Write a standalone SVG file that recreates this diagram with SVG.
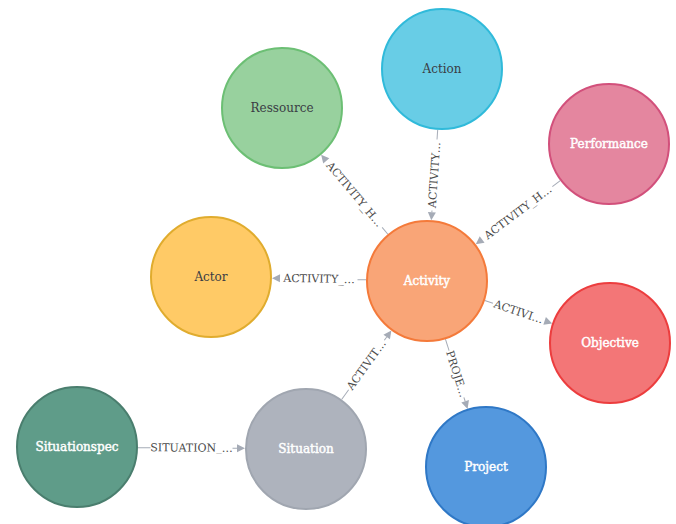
<svg xmlns="http://www.w3.org/2000/svg" width="676" height="524" viewBox="0 0 676 524">
<style>
.node circle{stroke-width:2}
.nl{font-family:"DejaVu Serif","Liberation Serif",serif;font-size:12px;text-anchor:middle;dominant-baseline:central}
.dark{fill:#3a3c44}
.light{fill:#ffffff;stroke:#ffffff;stroke-width:0.45}
.rel line{stroke:#a5abb6;stroke-width:1}
.rel polygon{fill:#a5abb6}
.el{font-family:"DejaVu Serif","Liberation Serif",serif;font-size:11px;fill:#4a4a4a;text-anchor:middle;dominant-baseline:central}
</style>
<rect width="676" height="524" fill="#ffffff"/>
<g id="connectors">
  <!-- Activity -> Ressource -->
  <g class="rel" transform="translate(354.5,194.5) rotate(50.0)">
    <polygon points="-51.9,0 -43.9,-4 -43.9,4"/>
    <line x1="43" y1="0" x2="51.9" y2="0"/>
    <text class="el" x="0" y="0">ACTIVITY_H…</text>
  </g>
  <!-- Action -> Activity -->
  <g class="rel" transform="translate(434.5,175) rotate(-85.95)">
    <polygon points="-45.3,0 -37.3,-4 -37.3,4"/>
    <line x1="-37.3" y1="0" x2="-35.5" y2="0"/>
    <line x1="35.5" y1="0" x2="45.3" y2="0"/>
    <text class="el" x="0" y="0">ACTIVITY…</text>
  </g>
  <!-- Performance -> Activity -->
  <g class="rel" transform="translate(518,212.5) rotate(-36.97)">
    <polygon points="-52.9,0 -44.9,-4 -44.9,4"/>
    <line x1="43" y1="0" x2="52.9" y2="0"/>
    <text class="el" x="0" y="0">ACTIVITY_H…</text>
  </g>
  <!-- Activity -> Actor -->
  <g class="rel" transform="translate(319,279) rotate(1.06)">
    <polygon points="-47,0 -39,-4 -39,4"/>
    <line x1="38.5" y1="0" x2="47" y2="0"/>
    <text class="el" x="0" y="0">ACTIVITY_…</text>
  </g>
  <!-- Activity -> Objective -->
  <g class="rel" transform="translate(518.5,312) rotate(18.72)">
    <polygon points="35.6,0 27.6,-4 27.6,4"/>
    <line x1="-35.6" y1="0" x2="-27" y2="0"/>
    <text class="el" x="0" y="0">ACTIVI…</text>
  </g>
  <!-- Activity -> Project -->
  <g class="rel" transform="translate(456.5,374) rotate(72.4)">
    <polygon points="36.6,0 28.6,-4 28.6,4"/>
    <line x1="-36.6" y1="0" x2="-24.5" y2="0"/>
    <line x1="24.5" y1="0" x2="28.6" y2="0"/>
    <text class="el" x="0" y="0">PROJE…</text>
  </g>
  <!-- Situation -> Activity -->
  <g class="rel" transform="translate(366.5,365) rotate(-54.2)">
    <polygon points="42.5,0 34.5,-4 34.5,4"/>
    <line x1="-42.5" y1="0" x2="-30.5" y2="0"/>
    <line x1="30.5" y1="0" x2="34.5" y2="0"/>
    <text class="el" x="0" y="0">ACTIVIT…</text>
  </g>
  <!-- Situationspec -> Situation -->
  <g class="rel" transform="translate(191.5,448) rotate(0.25)">
    <polygon points="53.5,0 45.5,-4 45.5,4"/>
    <line x1="-53.5" y1="0" x2="-41" y2="0"/>
    <line x1="41" y1="0" x2="45.5" y2="0"/>
    <text class="el" x="0" y="0">SITUATION_…</text>
  </g>
</g>
<g id="node-ressource" class="node">
  <circle cx="282" cy="108" r="60" fill="#98d19e" stroke="#6cbf74"/>
  <text class="nl dark" x="282" y="108">Ressource</text>
</g>
<g id="node-action" class="node">
  <circle cx="442" cy="69" r="60" fill="#68cde6" stroke="#30bada"/>
  <text class="nl dark" x="442" y="69">Action</text>
</g>
<g id="node-performance" class="node">
  <circle cx="609" cy="144" r="60" fill="#e4869f" stroke="#d2507b"/>
  <text class="nl light" x="609" y="144">Performance</text>
</g>
<g id="node-actor" class="node">
  <circle cx="211" cy="277" r="60" fill="#ffca66" stroke="#e0ac2e"/>
  <text class="nl dark" x="211" y="277">Actor</text>
</g>
<g id="node-activity" class="node">
  <circle cx="427" cy="281" r="60" fill="#f9a577" stroke="#f47a3a"/>
  <text class="nl light" x="427" y="281">Activity</text>
</g>
<g id="node-objective" class="node">
  <circle cx="610" cy="343" r="60" fill="#f37677" stroke="#ec3d3e"/>
  <text class="nl light" x="610" y="343">Objective</text>
</g>
<g id="node-situationspec" class="node">
  <circle cx="77" cy="447" r="60" fill="#5f9c89" stroke="#4a7e6e"/>
  <text class="nl light" x="77" y="447">Situationspec</text>
</g>
<g id="node-situation" class="node">
  <circle cx="306" cy="449" r="60" fill="#aeb3bd" stroke="#a0a6b0"/>
  <text class="nl light" x="306" y="449">Situation</text>
</g>
<g id="node-project" class="node">
  <circle cx="486" cy="467" r="60" fill="#5498de" stroke="#2f78c6"/>
  <text class="nl light" x="486" y="467">Project</text>
</g>
</svg>
